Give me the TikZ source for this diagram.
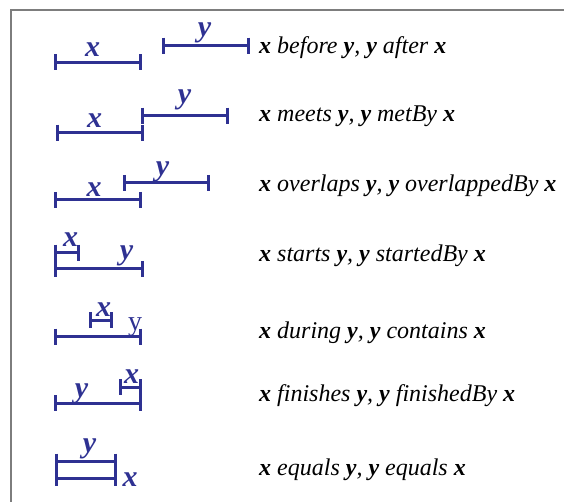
\documentclass[tikz,border=0pt]{standalone}
\usepackage{fontspec}
\setmainfont{Liberation Serif}

\definecolor{intblue}{RGB}{46,49,146}
\definecolor{framegray}{RGB}{125,125,125}

\newcommand{\bx}{\textbf{\textit{x}}}
\newcommand{\by}{\textbf{\textit{y}}}
% interval from #1 to #2 at height #3, with end ticks
\newcommand{\interval}[3]{%
    \draw[interval] (#1,#3-8) -- (#1,#3+8) (#1,#3) -- (#2,#3) (#2,#3-8) -- (#2,#3+8);}

\begin{document}
\begin{tikzpicture}[x=1pt,y=-1pt]

\tikzset{interval/.style={draw=intblue,line width=3pt},
    tag/.style={text=intblue,inner sep=0pt,font=\fontsize{30}{30}\selectfont\bfseries\itshape},
    relation/.style={anchor=base west,inner sep=0pt,font=\fontsize{24}{24}\selectfont\itshape}}

\useasboundingbox (0,0) rectangle (564,502);

%% Frame
\draw[framegray,line width=1.2pt] (11,502) -- (11,10) -- (564,10);

%% before
\interval{55.7}{140.3}{62.3}
\interval{163}{248}{45.7}
\node[tag] (before x) at (92.5,50) {x};
\node[tag] (before y) at (204.5,33) {y};
\node[relation] (before) at (259,53.3) {\bx{} before \by, \by{} after \bx};

%% meets
\interval{57}{142}{132.7}
\interval{142}{227}{115.7}
\node[tag] (meets x) at (94.5,120.5) {x};
\node[tag] (meets y) at (184.5,100) {y};
\node[relation] (meets) at (259,121.7) {\bx{} meets \by, \by{} metBy \bx};

%% overlaps
\interval{55.7}{140}{200}
\interval{124}{208}{183}
\node[tag] (overlaps x) at (94,189.5) {x};
\node[tag] (overlaps y) at (162.5,172) {y};
\node[relation] (overlaps) at (259,191.7) {\bx{} overlaps \by, \by{} overlappedBy \bx};

%% starts
\interval{55.7}{78}{252.7}
\interval{55.7}{142.7}{269}
\node[tag] (starts x) at (70.5,240) {x};
\node[tag] (starts y) at (126.5,256) {y};
\node[relation] (starts) at (259,261.7) {\bx{} starts \by, \by{} startedBy \bx};

%% during
\interval{90.7}{111}{320}
\interval{55.7}{140.7}{336.7}
\node[tag] (during x) at (103.5,309.5) {x};
\node[text=intblue,inner sep=0pt,font=\fontsize{28}{28}\selectfont] (during y) at (135,327.5) {y};
\node[relation] (during) at (259,338.3) {\bx{} during \by, \by{} contains \bx};

%% finishes
\interval{120}{140.5}{387}
\interval{55}{140.5}{403.3}
\node[tag] (finishes x) at (131.5,376.5) {x};
\node[tag] (finishes y) at (81.5,394) {y};
\node[relation] (finishes) at (259,401.7) {\bx{} finishes \by, \by{} finishedBy \bx};

%% equals
\interval{56.7}{115.7}{461.7}
\interval{56.7}{115.7}{478.3}
\node[tag] (equals y) at (89.5,449) {y};
\node[tag] (equals x) at (130,479.5) {x};
\node[relation] (equals) at (259,475) {\bx{} equals \by, \by{} equals \bx};

\end{tikzpicture}
\end{document}
